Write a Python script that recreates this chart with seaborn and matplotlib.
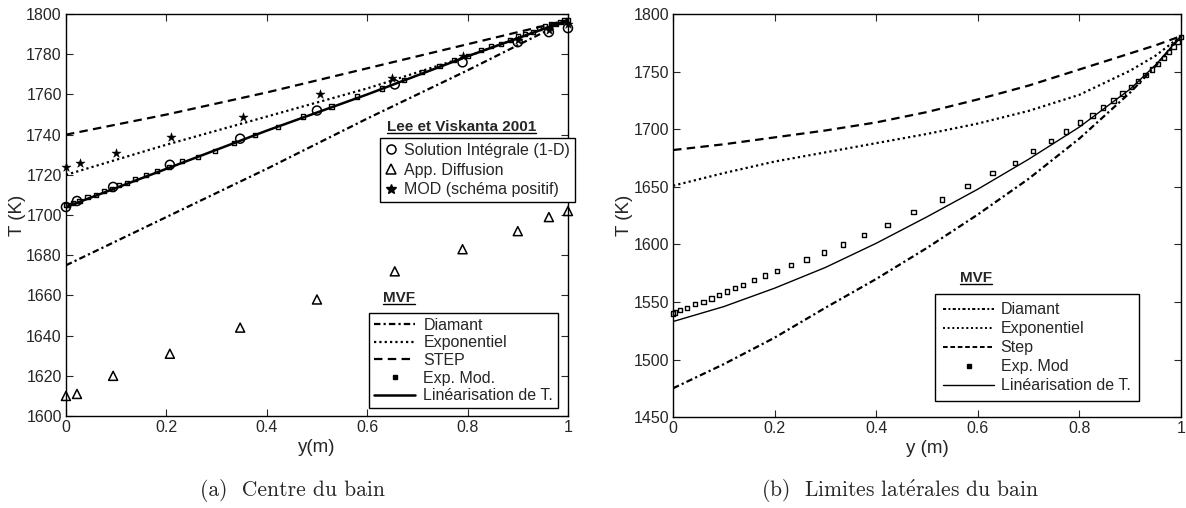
import numpy as np
import pandas as pd
import matplotlib
matplotlib.use("Agg")
import matplotlib.pyplot as plt
from matplotlib.lines import Line2D
import seaborn as sns

# ---- data, (a) centre du bain ----
ya_lines = [0.0, 0.2, 0.4, 0.6, 0.8, 1.0]
Ta_diamant = [1675, 1699, 1723, 1748, 1772, 1797]
Ta_expo = [1720, 1735, 1749, 1763, 1779, 1797]
Ta_step = [1740, 1750, 1761, 1773, 1785, 1797]
Ta_lin = [1704, 1723, 1742, 1760, 1779, 1797]

ya_ref = [0.0, 0.022, 0.094, 0.207, 0.347, 0.5, 0.655, 0.79, 0.9, 0.962, 1.0]
Ta_integrale = [1704, 1707, 1714, 1725, 1738, 1752, 1765, 1776, 1786, 1791, 1793]
Ta_diffusion = [1610, 1611, 1620, 1631, 1644, 1658, 1672, 1683, 1692, 1699, 1702]
ya_mod = [0.0, 0.028, 0.1, 0.21, 0.353, 0.507, 0.65, 0.79, 0.9, 0.962, 1.0]
Ta_mod = [1724, 1726, 1731, 1739, 1749, 1760, 1768, 1779, 1787, 1792, 1795]

y_grid = [0.0, 0.004, 0.014, 0.027, 0.043, 0.06, 0.076, 0.091, 0.106, 0.122,
          0.138, 0.159, 0.181, 0.205, 0.232, 0.263, 0.297, 0.334, 0.376, 0.422,
          0.473, 0.529, 0.58, 0.629, 0.673, 0.709, 0.744, 0.773, 0.801, 0.826,
          0.847, 0.867, 0.885, 0.901, 0.915, 0.93, 0.943, 0.955, 0.966, 0.976,
          0.985, 0.993, 1.0]
Ta_expmod = [1705, 1705, 1706, 1707, 1709, 1710, 1712, 1713, 1715, 1716,
             1718, 1720, 1722, 1724, 1727, 1729, 1732, 1736, 1740, 1744,
             1749, 1754, 1759, 1763, 1767, 1771, 1774, 1777, 1779, 1782,
             1784, 1785, 1787, 1789, 1790, 1791, 1793, 1794, 1795, 1795,
             1796, 1797, 1797]

# ---- data, (b) limites laterales ----
yb_lines = [0.0, 0.1, 0.2, 0.3, 0.4, 0.5, 0.6, 0.7, 0.8, 0.9, 0.95, 1.0]
Tb_diamant = [1475, 1496, 1519, 1545, 1570, 1597, 1626, 1657, 1692, 1732, 1755, 1781]
Tb_expo = [1651, 1662, 1672, 1680, 1688, 1696, 1705, 1716, 1730, 1751, 1764, 1781]
Tb_step = [1682, 1687, 1693, 1699, 1706, 1715, 1726, 1738, 1752, 1766, 1773, 1781]
Tb_lin = [1533, 1546, 1562, 1580, 1601, 1624, 1648, 1674, 1702, 1735, 1756, 1781]
Tb_expmod = [1540, 1541, 1543, 1545, 1548, 1550, 1553, 1556, 1559, 1562,
             1565, 1569, 1573, 1577, 1582, 1587, 1593, 1600, 1608, 1617,
             1628, 1639, 1651, 1662, 1671, 1681, 1690, 1698, 1706, 1712,
             1719, 1725, 1731, 1737, 1742, 1747, 1752, 1757, 1762, 1767,
             1772, 1776, 1780]

x_ticks = [0, 0.2, 0.4, 0.6, 0.8, 1]
x_labels = ["0", "0.2", "0.4", "0.6", "0.8", "1"]

sns.set_style("ticks", {"xtick.direction": "in", "ytick.direction": "in"})
plt.rcParams["font.family"] = ["Liberation Sans", "DejaVu Sans"]
plt.rcParams["font.size"] = 11.5
plt.rcParams["mathtext.fontset"] = "cm"

DASHDOT = (0, (2.9, 1.4, 1.0, 1.4))
DASHED = (0, (3.8, 2.4))
DOTTED = (0, (1.0, 1.4))
LEG_FS = 11.5

fig = plt.figure(figsize=(11.86, 5.08), dpi=100)
ax1 = fig.add_axes([0.0556, 0.181, 0.4233, 0.7913])
ax2 = fig.add_axes([0.5675, 0.179, 0.4283, 0.793])


def underlined(fig, x, y, txt):
    t = fig.text(x, y, txt, fontsize=11, fontweight="bold", ha="left", va="center")
    fig.canvas.draw()
    bb = t.get_window_extent().transformed(fig.transFigure.inverted())
    fig.add_artist(Line2D([bb.x0, bb.x1], [bb.y0 + 0.002, bb.y0 + 0.002],
                          color="k", lw=1.0, transform=fig.transFigure))
    return t


def style_axes(ax, ylim, yticks):
    ax.set_xlim(0, 1)
    ax.set_ylim(*ylim)
    ax.set_xticks(x_ticks)
    ax.set_xticklabels(x_labels)
    ax.set_yticks(yticks)
    ax.tick_params(direction="in", length=5, width=0.8, top=True, right=True,
                   labelsize=11.5, pad=3)
    for s in ax.spines.values():
        s.set_visible(True)
        s.set_linewidth(1.0)
        s.set_color("k")


def frame_legend(ax, handles, labels, anchor, **kw):
    leg = ax.legend(handles, labels, loc="upper left", bbox_to_anchor=anchor,
                    borderaxespad=0, fontsize=LEG_FS, frameon=True, fancybox=False,
                    edgecolor="k", framealpha=1, **kw)
    leg.get_frame().set_linewidth(1.0)
    return leg


# ---- (a) ----
sns.lineplot(x=ya_lines, y=Ta_diamant, ax=ax1, color="k", lw=1.6, linestyle=DASHDOT)
sns.lineplot(x=ya_lines, y=Ta_expo, ax=ax1, color="k", lw=1.6, linestyle=DOTTED)
sns.lineplot(x=ya_lines, y=Ta_step, ax=ax1, color="k", lw=1.6, linestyle=DASHED)
sns.lineplot(x=ya_lines, y=Ta_lin, ax=ax1, color="k", lw=1.8)
sns.scatterplot(x=y_grid, y=Ta_expmod, ax=ax1, marker="s", s=9, facecolor="none",
                edgecolor="k", linewidth=1.0, clip_on=False, zorder=4)
sns.scatterplot(x=ya_ref, y=Ta_integrale, ax=ax1, marker="o", s=42, facecolor="none",
                edgecolor="k", linewidth=1.1, clip_on=False, zorder=5)
sns.scatterplot(x=ya_ref, y=Ta_diffusion, ax=ax1, marker="^", s=42, facecolor="none",
                edgecolor="k", linewidth=1.1, clip_on=False, zorder=5)
sns.scatterplot(x=ya_mod, y=Ta_mod, ax=ax1, marker="*", s=48, color="k",
                edgecolor="k", linewidth=0.3, clip_on=False, zorder=5)
style_axes(ax1, (1600, 1800), np.arange(1600, 1801, 20))
ax1.set_xlabel("y(m)", fontsize=13.5, labelpad=3)
ax1.set_ylabel("T (K)", fontsize=13.5, labelpad=0)

h_ref = [Line2D([], [], ls="none", marker="o", ms=6.5, mfc="none", mec="k", mew=1.1),
         Line2D([], [], ls="none", marker="^", ms=6.5, mfc="none", mec="k", mew=1.1),
         Line2D([], [], ls="none", marker="*", ms=7, color="k")]
leg1 = frame_legend(ax1, h_ref,
                    ["Solution Intégrale (1-D)", "App. Diffusion", "MOD (schéma positif)"],
                    (0.6255, 0.6915), handlelength=0.8, handletextpad=0.4,
                    labelspacing=0.3, borderpad=0.3)
ax1.add_artist(leg1)

h_mvf = [Line2D([], [], color="k", lw=1.6, ls=DASHDOT),
         Line2D([], [], color="k", lw=1.6, ls=DOTTED),
         Line2D([], [], color="k", lw=1.6, ls=DASHED),
         Line2D([], [], ls="none", marker="s", ms=3, mfc="k", mec="k"),
         Line2D([], [], color="k", lw=1.8)]
frame_legend(ax1, h_mvf, ["Diamant", "Exponentiel", "STEP", "Exp. Mod.", "Linéarisation de T."],
             (0.604, 0.256), handlelength=2.6, handletextpad=0.5,
             labelspacing=0.16, borderpad=0.3)

# ---- (b) ----
sns.lineplot(x=yb_lines, y=Tb_diamant, ax=ax2, color="k", lw=1.6, linestyle=DASHDOT)
sns.lineplot(x=yb_lines, y=Tb_expo, ax=ax2, color="k", lw=1.6, linestyle=DOTTED)
sns.lineplot(x=yb_lines, y=Tb_step, ax=ax2, color="k", lw=1.6, linestyle=DASHED)
sns.lineplot(x=yb_lines, y=Tb_lin, ax=ax2, color="k", lw=1.0)
sns.scatterplot(x=y_grid, y=Tb_expmod, ax=ax2, marker="s", s=10, facecolor="none",
                edgecolor="k", linewidth=1.0, clip_on=False, zorder=4)
style_axes(ax2, (1450, 1800), np.arange(1450, 1801, 50))
ax2.set_xlabel("y (m)", fontsize=13.5, labelpad=3)
ax2.set_ylabel("T (K)", fontsize=13.5, labelpad=0)

h_mvf_b = [Line2D([], [], color="k", lw=1.4, ls=(0, (1.6, 1.2, 1.0, 1.2))),
           Line2D([], [], color="k", lw=1.4, ls=DOTTED),
           Line2D([], [], color="k", lw=1.4, ls=(0, (2.4, 1.4))),
           Line2D([], [], ls="none", marker="s", ms=3, mfc="k", mec="k"),
           Line2D([], [], color="k", lw=1.0)]
frame_legend(ax2, h_mvf_b, ["Diamant", "Exponentiel", "Step", "Exp. Mod", "Linéarisation de T."],
             (0.516, 0.305), handlelength=3.2, handletextpad=0.4,
             labelspacing=0.25, borderpad=0.5)

# legend titles (bold, underlined)
underlined(fig, 387 / 1186, 1 - 127 / 508, "Lee et Viskanta 2001")
underlined(fig, 383 / 1186, 1 - 298 / 508, "MVF")
underlined(fig, 960 / 1186, 1 - 278 / 508, "MVF")

# captions
fig.text(292 / 1186, 1 - 490 / 508, "(a)  Centre du bain", family="cmr10",
         fontsize=15.5, ha="center", va="center")
fig.text(900 / 1186, 1 - 490 / 508, "(b)  Limites lat$\\acute{\\mathrm{e}}$rales du bain",
         family="cmr10", fontsize=15.5, ha="center", va="center")

fig.savefig("out.png", dpi=100)
